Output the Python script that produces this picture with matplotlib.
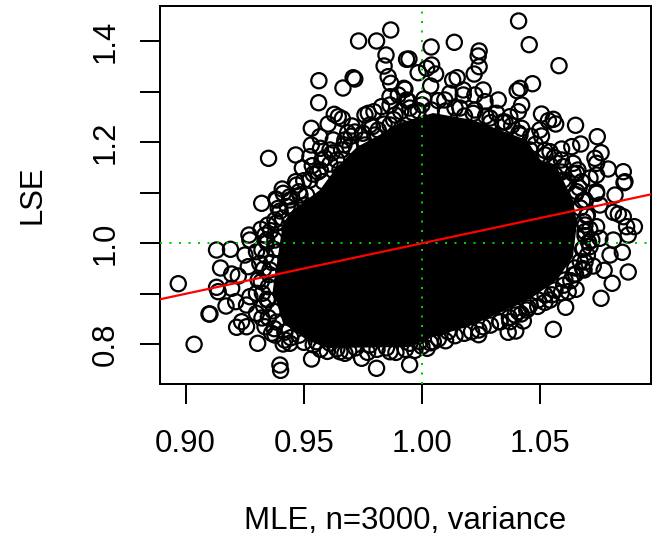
import matplotlib
matplotlib.use("Agg")
import matplotlib.pyplot as plt

plt.rcParams['font.family'] = ['Liberation Sans', 'DejaVu Sans']

# open circles that can be told apart
upper_left_x = [.9868, .9732, .9808, .9848, .9840, .9857, .9868, .9935, .9564, .9666, .9709, .9716, .9563, .9629,
                .9646, .9663, .9603, .9704, .9686, .9532, .9568, .9625, .9532, .9571, .9466, .9351, .9526, .9536,
                .9494, .9611, .9466, .9470, .9409, .9512, .9382, .9322, .9759, .9773, .9797, .9829, .9865, .9865,
                .9900, .9935, .9924, .9752, .9815, .9865, .9914, .9660, .9695, .9639, .9582]
upper_left_y = [1.4224, 1.4006, 1.4006, 1.3729, 1.3511, 1.3299, 1.3168, 1.3644, 1.3220, 1.3075, 1.3279, 1.3253,
                1.2784, 1.2554, 1.2507, 1.2467, 1.2362, 1.2323, 1.2190, 1.2277, 1.2111, 1.2046, 1.1947, 1.1881,
                1.1749, 1.1683, 1.1715, 1.1537, 1.1491, 1.1570, 1.1220, 1.1154, 1.1075, 1.0956, 1.0877, 1.0792,
                1.2541, 1.2574, 1.2606, 1.2705, 1.2739, 1.2903, 1.2937, 1.2838, 1.3069, 1.2046, 1.2244, 1.2343,
                1.2283, 1.1848, 1.1913, 1.1649, 1.1220]

upper_right_x = [1.0409, 1.0454, 1.0580, 1.0137, 1.0039, .9945, 1.0242, 1.0238, 1.0242, 1.0221, 1.0041, 1.0020,
                 1.0058, .9984, 1.0037, 1.0149, 1.0130, 1.0468, 1.0415, 1.0403, 1.0259, .9928, 1.0323, .9942,
                 1.0175, 1.0118, 1.0224, 1.0175, 1.0008, 1.0069, 1.0267, .9984, 1.0422, 1.0408, 1.0506, 1.0535,
                 1.0556, 1.0566, 1.0650, 1.0742, 1.0499, 1.0506, 1.0422, 1.0316, 1.0217, 1.0372, 1.0542, 1.0591,
                 1.0634, 1.0672, 1.0758, 1.0732, 1.0788, 1.0852, 1.0859, 1.0855, 1.0739, 1.0739, 1.0739, 1.0817,
                 1.0640, 1.0655, 1.0676, 1.0598, 1.0598, 1.0542, 1.0655]
upper_right_y = [1.4402, 1.3933, 1.3517, 1.3980, 1.3887, 1.3650, 1.3808, 1.3709, 1.3497, 1.3352, 1.3531, 1.3465,
                 1.3352, 1.3378, 1.3115, 1.3279, 1.3234, 1.3160, 1.3069, 1.3022, 1.3036, 1.3050, 1.2838, 1.2818,
                 1.3036, 1.2970, 1.2937, 1.2937, 1.2857, 1.2824, 1.2804, 1.2626, 1.2739, 1.2606, 1.2560, 1.2428,
                 1.2455, 1.2362, 1.2337, 1.2111, 1.2244, 1.2125, 1.2277, 1.2574, 1.2574, 1.2507, 1.1814, 1.1867,
                 1.1913, 1.1966, 1.1794, 1.1683, 1.1471, 1.1418, 1.1220, 1.1200, 1.1584, 1.1352, 1.1022, 1.0956,
                 1.1584, 1.1386, 1.1220, 1.1517, 1.1253, 1.1550, 1.1022]

lower_right_x = [1.0739, 1.0810, 1.0831, 1.0852, 1.0866, 1.0899, 1.0873, 1.0697, 1.0739, 1.0690, 1.0753, 1.0810,
                 1.0848, 1.0796, 1.0711, 1.0683, 1.0725, 1.0771, 1.0873, 1.0805, 1.0758, 1.0686, 1.0640, 1.0652,
                 1.0619, 1.0608, 1.0556, 1.0542, 1.0492, 1.0443, 1.0408, 1.0429, 1.0372, 1.0397, 1.0365, 1.0259,
                 1.0241, 1.0179, 1.0111, 1.0048, 1.0022, .9992, .9949, .9948]
lower_right_y = [1.0990, 1.0614, 1.0580, 1.0527, 1.0329, 1.0329, 1.0164, 1.0541, 1.0329, 1.0230, 1.0099, 1.0065,
                 .9822, .9768, .9933, .9901, .9550, .9465, .9432, .9208, .8911, .9471, .9372, .9089,
                 .9042, .8733, .8297, .8877, .8877, .8679, .8646, .8461, .8448, .8263, .8238, .8348,
                 .8283, .8218, .8250, .8051, .7921, .8051, .8020, .7596]

lower_left_x = [.8969, .9036, .9099, .9103, .9131, .9190, .9148, .9131, .9138, .9195, .9195, .9223, .9171, .9212,
                .9216, .9237, .9258, .9305, .9268, .9319, .9272, .9343, .9336, .9251, .9300, .9265, .9314, .9307,
                .9272, .9300, .9258, .9300, .9336, .9364, .9413, .9441, .9399, .9402, .9533, .9653, .9674, .9745,
                .9808, .9865, .9780, .9554, .9611, .9385, .9392, .9378, .9455, .9413]
lower_left_y = [.9200, .8000, .8600, .8600, .9867, .9881, .9511, .9129, .9042, .9109, .9392, .9352, .8758, .8844,
                .8337, .8447, .8348, .8020, 1.0164, 1.0277, 1.0065, 1.0065, 1.0164, .9768, .9834, .9537, .9604, .9273,
                .8943, .9010, .8778, .8614, .8348, .8218, .8006, .8020, .7590, .7484, .7709, .7853, .7822, .7723,
                .7525, .7853, .7986, .8051, .8020, 1.0857, 1.0693, 1.0461, 1.0659, 1.0990]

# circles around the edge of the black part, estimated
edge_x = [.9385, .9360, .9395, .9345, .9375, .9340, .9365, .9330, .9355, .9320, .9350, .9325, .9345, .9330, .9370,
          .9350, .9385, .9375, .9420, .9445, .9480, .9500, .9540, .9570, .9600, .9640, .9690, .9720, .9770, .9810,
          .9850, .9890, .9930, .9970, 1.0000, 1.0035, 1.0070, 1.0100, 1.0140, 1.0210, 1.0240, 1.0290, 1.0330, 1.0370,
          1.0420, 1.0450, 1.0490, 1.0520, 1.0550, 1.0590, 1.0600, 1.0630, 1.0650, 1.0680, 1.0670, 1.0700, 1.0680,
          1.0705, 1.0690, 1.0710, 1.0685, 1.0700, 1.0670, 1.0680, 1.0650, 1.0665, 1.0620, 1.0640, 1.0590, 1.0560,
          1.0590, 1.0520, 1.0480, 1.0460, 1.0410, 1.0380, 1.0340, 1.0290, 1.0270, 1.0180, 1.0140, 1.0100, 1.0040,
          1.0000, .9960, .9910, .9880, .9840, .9790, .9750, .9700, .9670, .9620, .9590, .9570, .9540, .9500, .9480,
          .9440, .9430, .9400, .9410]
edge_y = [1.0402, 1.0250, 1.0120, 1.0010, .9880, .9750, .9620, .9490, .9380, .9240, .9140, .9010, .8890, .8760, .8660,
          .8530, .8440, .8310, .8240, .8130, .8180, .8040, .7990, .7900, .7860, .7910, .7870, .7930, .7840, .7900,
          .7930, .7840, .7900, .7880, .7960, .8030, .8110, .8070, .8170, .8250, .8190, .8380, .8450, .8530,
          .8600, .8720, .8750, .8830, .8980, .9020, .9170, .9260, .9390, .9500, .9640, .9760, .9880,
          1.0020, 1.0150, 1.0280, 1.0430, 1.0560, 1.0700, 1.0840, 1.0970, 1.1100, 1.1200, 1.1380, 1.1410, 1.1700,
          1.1650, 1.1840, 1.1960, 1.2120, 1.2180, 1.2330, 1.2400, 1.2390, 1.2520, 1.2520, 1.2680, 1.2620, 1.2640,
          1.2740, 1.2590, 1.2610, 1.2450, 1.2360, 1.2310, 1.2180, 1.2120, 1.1950, 1.1790, 1.1690, 1.1450, 1.1370,
          1.1240, 1.1020, 1.0920, 1.0730, 1.0640, 1.0500]

# second row of circles outside that edge, estimated
band_x = [.9611, .9577, .9674, .9716, .9780, .9653, .9526, .9560, .9484, .9505, .9441, .9801, .9886, .9949, .9759,
          1.0097, 1.0161, 1.0224, 1.0288, 1.0351, 1.0415, 1.0457, 1.0521, 1.0563, 1.0605, 1.0660, 1.0690, 1.0711,
          1.0753, 1.0690, 1.0719, 1.0690, 1.0647, 1.0605, 1.0563, 1.0521, 1.0457, 1.0394, 1.0330,
          .9348, .9323, .9378, .9357, .9323, .9378, .9348, .9420]
band_y = [1.1848, 1.1649, 1.2046, 1.2204, 1.2343, 1.1451, 1.1253, 1.1412, 1.0956, 1.0758, 1.0857, 1.2145, 1.2541,
          1.2679, 1.1947, 1.2838, 1.2679, 1.2640, 1.2481, 1.2402, 1.2145, 1.1848, 1.1749, 1.1352, 1.1154, 1.1451,
          1.0857, 1.1293, 1.0758, 1.0362, 1.0065, .9630, .9511, .9273, .9075, .8976, .8778, .8580, .8442,
          .8877, .8521, .8184, .9471, .9868, 1.0065, 1.0362, .8085]

# outline of the part where the circles overlap into solid black
core_x = [.9412, .9369, .9412, .9513, .9598, .9949, 1.0047, 1.0190, 1.0330, 1.0470, 1.0571, 1.0639, 1.0656,
          1.0639, 1.0571, 1.0499, 1.0444, 1.0330, 1.0216, 1.0047, .9907, .9835, .9725, .9640, .9568, .9454]
core_y = [1.0402, .9075, .8422, .8085, .7927, .7947, .8145, .8343, .8620, .8937, .9273, .9729, 1.0402,
          1.0857, 1.1511, 1.1650, 1.2046, 1.2244, 1.2442, 1.2580, 1.2382, 1.2184, 1.1907, 1.1511, 1.1055, 1.0659]

x_ticks = [0.90, 0.95, 1.00, 1.05]
x_tick_labels = ['0.90', '0.95', '1.00', '1.05']
y_ticks = [0.8, 0.9, 1.0, 1.1, 1.2, 1.3, 1.4]
y_tick_labels = ['0.8', '', '1.0', '', '1.2', '', '1.4']

fig = plt.figure(figsize=(6.62, 5.40), dpi=100)
ax = fig.add_axes([160.3 / 662, 1 - 384 / 540, (650.7 - 160.3) / 662, (384 - 6.3) / 540])

ax.fill(core_x, core_y, color='black', lw=0, zorder=2)
for xs, ys in [(upper_left_x, upper_left_y), (upper_right_x, upper_right_y), (lower_right_x, lower_right_y),
               (lower_left_x, lower_left_y), (edge_x, edge_y), (band_x, band_y)]:
    ax.scatter(xs, ys, s=120, facecolors='none', edgecolors='black', linewidths=1.6, zorder=3)

# reference lines
ax.axhline(1, color='#00cd00', lw=1.44, ls=(0, (1, 3.75)), zorder=4)
ax.axvline(1, color='#00cd00', lw=1.44, ls=(0, (1, 3.75)), zorder=4)
ax.axline((1, 1), slope=1, color='#ff0000', lw=1.6, zorder=5)

ax.set_xlim(0.8893, 1.0968)
ax.set_ylim(0.7214, 1.4693)
ax.set_xticks(x_ticks, x_tick_labels)
ax.set_yticks(y_ticks, y_tick_labels, rotation=90, va='center')
ax.tick_params(length=14.4, width=1.44, labelsize=22.4)
ax.tick_params(axis='x', pad=18)
ax.tick_params(axis='y', pad=14)
for s in ax.spines.values():
    s.set_linewidth(1.44)

ax.set_xlabel('MLE, n=3000, variance', fontsize=22.5, va='baseline')
ax.xaxis.set_label_coords(0.5, -(529 - 384) / 377.7)
ax.set_ylabel('LSE', fontsize=22.4, va='baseline')
ax.yaxis.set_label_coords((40 - 160.3) / 490.4, 0.5)

fig.savefig('out.png', dpi=100)
